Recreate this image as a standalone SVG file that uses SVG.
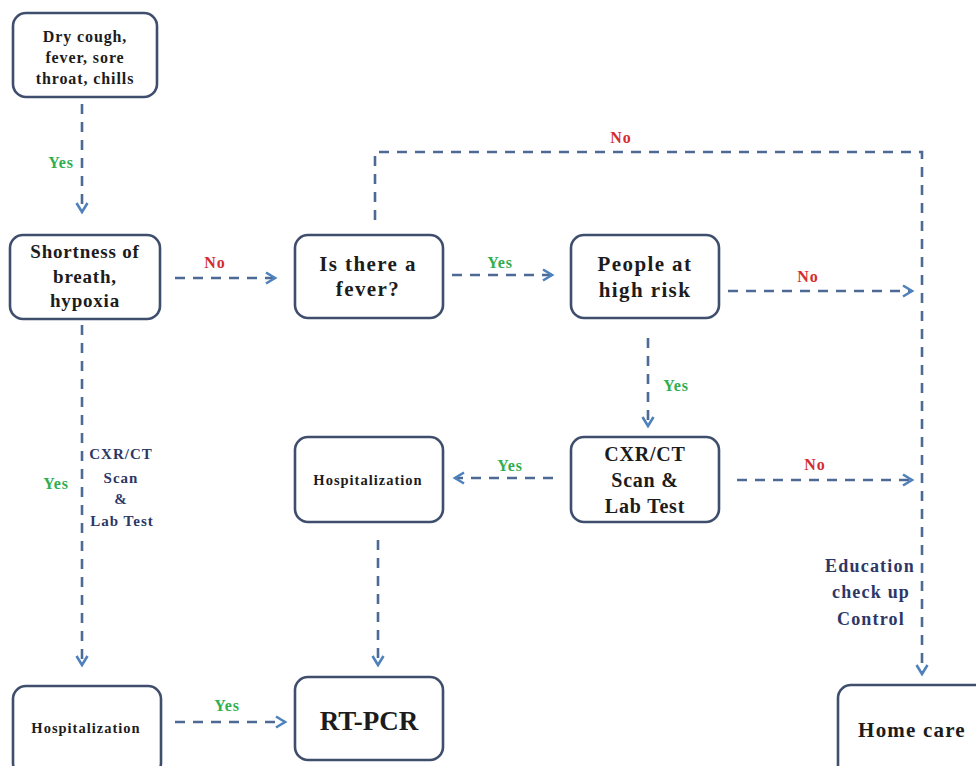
<svg xmlns="http://www.w3.org/2000/svg" width="976" height="766" viewBox="0 0 976 766">
<style>
.box{fill:#fff;stroke:#3e4e6c;stroke-width:2.6}
.t{font-family:"Liberation Serif","Times New Roman",serif;font-weight:bold;fill:#1c1c1c;text-anchor:middle}
.n1{font-size:16px;letter-spacing:0.9px}
.n2{font-size:19px;letter-spacing:0.8px}
.n3{font-size:21px;letter-spacing:1.4px}
.n5{font-size:20px;letter-spacing:0.8px}
.hs{font-size:14.5px;letter-spacing:1px}
.rt{font-size:27px}
.hc{font-size:21px;letter-spacing:1.2px}
.lbl{font-family:"Liberation Serif","Times New Roman",serif;font-weight:bold;text-anchor:middle}
.yes{fill:#2fae4f;font-size:16px;letter-spacing:0.8px}
.no{fill:#d42e2e;font-size:16px;letter-spacing:1px}
.nv{fill:#2c3766;font-size:15px;letter-spacing:1px}
.ed{fill:#2c3766;font-size:18px;letter-spacing:1.2px}
.c{fill:none;stroke:#4d6a94;stroke-width:2.6;stroke-dasharray:10 8}
</style>
<defs>
<marker id="ah" markerUnits="userSpaceOnUse" markerWidth="16" markerHeight="16" refX="11" refY="7" orient="auto">
<path d="M2,1.5 L11,7 L2,12.5" fill="none" stroke="#4f81bd" stroke-width="2.6"/>
</marker>
</defs>
<rect width="976" height="766" fill="#fff"/>

<g id="connectors">
<path class="c" d="M82,104 V212" marker-end="url(#ah)"/>
<path class="c" d="M175,278 H275" marker-end="url(#ah)"/>
<path class="c" d="M452,275 H552" marker-end="url(#ah)"/>
<path class="c" d="M375,220 V152 H922 V674" marker-end="url(#ah)"/>
<path class="c" d="M728,291 H912" marker-end="url(#ah)"/>
<path class="c" d="M648,338 V426" marker-end="url(#ah)"/>
<path class="c" d="M553,478 H455" marker-end="url(#ah)"/>
<path class="c" d="M737,480 H912" marker-end="url(#ah)"/>
<path class="c" d="M82,325 V665" marker-end="url(#ah)"/>
<path class="c" d="M378,540 V665" marker-end="url(#ah)"/>
<path class="c" d="M175,722 H285" marker-end="url(#ah)"/>
<text class="lbl yes" x="61" y="168">Yes</text>
<text class="lbl no" x="215" y="268">No</text>
<text class="lbl yes" x="500" y="268">Yes</text>
<text class="lbl no" x="621" y="143">No</text>
<text class="lbl no" x="808" y="282">No</text>
<text class="lbl yes" x="676" y="391">Yes</text>
<text class="lbl yes" x="510" y="471">Yes</text>
<text class="lbl no" x="815" y="470">No</text>
<text class="lbl yes" x="56" y="489">Yes</text>
<text class="lbl nv" x="121" y="459">CXR/CT</text>
<text class="lbl nv" x="121" y="483">Scan</text>
<text class="lbl nv" x="121" y="504">&amp;</text>
<text class="lbl nv" x="122" y="526">Lab Test</text>
<text class="lbl yes" x="227" y="711">Yes</text>
<text class="lbl ed" x="870" y="572">Education</text>
<text class="lbl ed" x="871" y="598">check up</text>
<text class="lbl ed" x="871" y="625">Control</text>
</g>

<g id="symptoms">
<rect class="box" x="13" y="13" width="144" height="84" rx="13"/>
<text class="t n1" x="85" y="42">Dry cough,</text>
<text class="t n1" x="85" y="63">fever, sore</text>
<text class="t n1" x="85" y="84">throat, chills</text>
</g>

<g id="shortness">
<rect class="box" x="10" y="235" width="150" height="84" rx="13"/>
<text class="t n2" x="85" y="258">Shortness of</text>
<text class="t n2" x="85" y="283">breath,</text>
<text class="t n2" x="85" y="307">hypoxia</text>
</g>

<g id="fever">
<rect class="box" x="295" y="235" width="148" height="83" rx="13"/>
<text class="t n3" x="368" y="271">Is there a</text>
<text class="t n3" x="368" y="296">fever?</text>
</g>

<g id="highrisk">
<rect class="box" x="571" y="235" width="148" height="83" rx="13"/>
<text class="t n3" x="645" y="271">People at</text>
<text class="t n3" x="645" y="297">high risk</text>
</g>

<g id="cxr">
<rect class="box" x="571" y="437" width="148" height="85" rx="13"/>
<text class="t n5" x="645" y="461">CXR/CT</text>
<text class="t n5" x="645" y="487">Scan &amp;</text>
<text class="t n5" x="645" y="513">Lab Test</text>
</g>

<g id="hosp-mid">
<rect class="box" x="295" y="437" width="148" height="85" rx="13"/>
<text class="t hs" x="368" y="485">Hospitalization</text>
</g>

<g id="hosp-bottom">
<rect class="box" x="13" y="686" width="148" height="90" rx="13"/>
<text class="t hs" x="86" y="733">Hospitalization</text>
</g>

<g id="rtpcr">
<rect class="box" x="295" y="677" width="148" height="83" rx="13"/>
<text class="t rt" x="369" y="730">RT-PCR</text>
</g>

<g id="homecare">
<rect class="box" x="838" y="685" width="150" height="95" rx="13"/>
<text class="t hc" x="912" y="737">Home care</text>
</g>
</svg>
